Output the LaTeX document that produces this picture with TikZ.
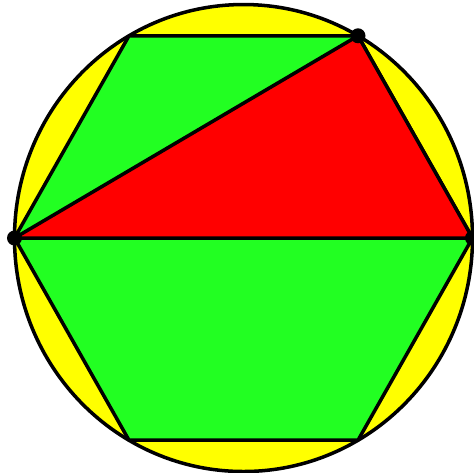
\documentclass[tikz,border=0pt]{standalone}
\usepackage{tikz}
\usetikzlibrary{calc}
\definecolor{DiskYellow}{HTML}{FFFF00}
\definecolor{HexGreen}{HTML}{22FF22}
\definecolor{TriRed}{HTML}{FF0000}

\begin{document}
\begin{tikzpicture}[
    edge/.style={draw=black,line width=1pt,line join=round},
    vdot/.style={circle,fill=black,inner sep=0pt,minimum size=1.5mm}
  ]
  \useasboundingbox (0,0) rectangle (4.74,4.72);
  \clip (0,0) rectangle (4.74,4.72);
  % Circle
  \coordinate (o) at (2.435,2.34);
  \fill[DiskYellow] (o) ellipse [x radius=2.29,y radius=2.335];
  \draw[edge] (o) ellipse [x radius=2.29,y radius=2.335];
  % Hexagon vertices
  \foreach \k in {0,...,5}
    \coordinate (h\k) at ($(o)+({2.29*cos(60*\k)},{2.335*sin(60*\k)})$);
  \filldraw[edge,fill=HexGreen] (h0) -- (h1) -- (h2) -- (h3) -- (h4) -- (h5) -- cycle;
  % Triangle
  \filldraw[edge,fill=TriRed] (h3) -- (h1) -- (h0) -- cycle;
  % Marked points
  \node[vdot] (p3) at (h3) {};
  \node[vdot] (p1) at (h1) {};
  \node[vdot] (p0) at (h0) {};
\end{tikzpicture}
\end{document}
